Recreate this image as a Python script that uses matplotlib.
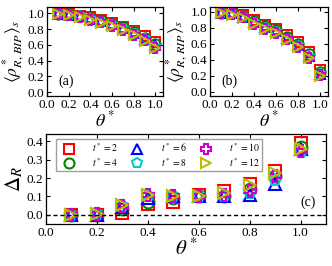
import matplotlib
matplotlib.use("Agg")
import matplotlib.pyplot as plt
from matplotlib.ticker import MultipleLocator, FormatStrFormatter

plt.rcParams['font.family'] = ['Liberation Serif', 'DejaVu Serif']
plt.rcParams['mathtext.fontset'] = 'stix'

theta = [0.1, 0.2, 0.3, 0.4, 0.5, 0.6, 0.7, 0.8, 0.9, 1.0]
times = [2, 4, 6, 8, 10, 12]
labels = [r'$t^*=2$', r'$t^*=4$', r'$t^*=6$', r'$t^*=8$', r'$t^*=10$', r'$t^*=12$']

rho_bip = {
    2:  [1.00, 0.99, 0.97, 0.95, 0.92, 0.88, 0.83, 0.78, 0.71, 0.63],
    4:  [0.99, 0.99, 0.97, 0.94, 0.91, 0.87, 0.82, 0.76, 0.69, 0.61],
    6:  [0.99, 0.98, 0.96, 0.93, 0.90, 0.86, 0.81, 0.75, 0.68, 0.60],
    8:  [0.99, 0.98, 0.96, 0.93, 0.89, 0.85, 0.80, 0.74, 0.67, 0.57],
    10: [0.99, 0.98, 0.95, 0.92, 0.89, 0.84, 0.79, 0.73, 0.66, 0.56],
    12: [0.99, 0.98, 0.95, 0.92, 0.88, 0.84, 0.79, 0.73, 0.65, 0.56],
}
rho_rip = {
    2:  [1.00, 1.00, 0.96, 0.90, 0.84, 0.79, 0.71, 0.62, 0.50, 0.27],
    4:  [0.99, 0.99, 0.95, 0.89, 0.82, 0.77, 0.69, 0.60, 0.48, 0.25],
    6:  [0.99, 0.98, 0.94, 0.87, 0.81, 0.76, 0.67, 0.58, 0.45, 0.23],
    8:  [0.99, 0.97, 0.93, 0.86, 0.80, 0.75, 0.66, 0.57, 0.44, 0.22],
    10: [0.99, 0.97, 0.93, 0.85, 0.79, 0.74, 0.66, 0.56, 0.43, 0.21],
    12: [0.98, 0.96, 0.92, 0.85, 0.79, 0.73, 0.65, 0.56, 0.42, 0.20],
}
delta_r = {
    2:  [0.000, 0.000, 0.010, 0.060, 0.070, 0.110, 0.130, 0.170, 0.240, 0.390],
    4:  [0.000, 0.000, 0.030, 0.070, 0.090, 0.100, 0.100, 0.140, 0.210, 0.370],
    6:  [0.000, 0.000, 0.040, 0.090, 0.100, 0.100, 0.100, 0.110, 0.170, 0.360],
    8:  [0.000, 0.005, 0.050, 0.100, 0.100, 0.100, 0.100, 0.120, 0.190, 0.340],
    10: [0.000, 0.005, 0.050, 0.110, 0.100, 0.100, 0.110, 0.130, 0.210, 0.350],
    12: [0.000, 0.005, 0.055, 0.110, 0.105, 0.105, 0.120, 0.160, 0.230, 0.360],
}

markers = ['s', 'o', '^', 'p', 'P', '>']
colors = ['#ff0000', '#008800', '#0000ff', '#00cccc', '#cc00cc', '#bbbb00']

fig = plt.figure(figsize=(3.32, 2.66), dpi=100)
W, H = 332, 266
def ax_at(l, t, r, b):
    return fig.add_axes([l / W, 1 - b / H, (r - l) / W, (b - t) / H])

axa = ax_at(47, 7, 163, 96)
axb = ax_at(210, 7, 328, 96)
axc = ax_at(46, 134, 326, 224)

def style(ax, fs=9.5):
    ax.tick_params(direction='in', top=True, right=True, labelsize=fs, length=3, width=0.8, pad=2)
    for s in ax.spines.values():
        s.set_linewidth(0.9)

for ax, data, lab, name in [(axa, rho_bip, r'$\langle\rho^*_{R,\,BIP}\rangle_s$', '(a)'),
                            (axb, rho_rip, r'$\langle\rho^*_{R,\,RIP}\rangle_s$', '(b)')]:
    for t, m, c in zip(times, markers, colors):
        ax.plot(theta, data[t], linestyle='none', marker=m, markersize=7.5,
                markerfacecolor='none', markeredgecolor=c, markeredgewidth=1.4)
    ax.set_xlim(0, 1.07)
    ax.set_ylim(-0.05, 1.08 if ax is axa else 1.06)
    ax.xaxis.set_major_locator(MultipleLocator(0.2))
    ax.yaxis.set_major_locator(MultipleLocator(0.2))
    ax.xaxis.set_major_formatter(FormatStrFormatter('%.1f'))
    ax.yaxis.set_major_formatter(FormatStrFormatter('%.1f'))
    style(ax)
    ax.set_xlabel(r'$\theta^*$', fontsize=13, labelpad=0)
    ax.set_ylabel(lab, fontsize=12.5, labelpad=0)
    ax.text(0.1, 0.12, name, transform=ax.transAxes, fontsize=10)

for t, m, c, l in zip(times, markers, colors, labels):
    axc.plot(theta, delta_r[t], linestyle='none', marker=m, markersize=8.5,
             markerfacecolor='none', markeredgecolor=c, markeredgewidth=1.5, label=l)
axc.axhline(0, color='black', linestyle='--', linewidth=1.0, dashes=(3, 2))
axc.set_xlim(0, 1.1)
axc.set_ylim(-0.05, 0.44)
axc.xaxis.set_major_locator(MultipleLocator(0.2))
axc.yaxis.set_major_locator(MultipleLocator(0.1))
axc.xaxis.set_major_formatter(FormatStrFormatter('%.1f'))
axc.yaxis.set_major_formatter(FormatStrFormatter('%.1f'))
style(axc)
axc.set_xlabel(r'$\theta^*$', fontsize=15, labelpad=0)
axc.set_ylabel(r'$\Delta_R$', fontsize=15, labelpad=1)
axc.text(0.965, 0.2, '(c)', transform=axc.transAxes, fontsize=10, ha='right')
leg = axc.legend(ncol=3, loc='upper left', bbox_to_anchor=(0.02, 1.0), fontsize=7,
                 frameon=True, fancybox=False, edgecolor='#888888', handletextpad=1.4,
                 columnspacing=1.0, borderpad=0.25, labelspacing=0.15, markerscale=0.85)
leg.get_frame().set_linewidth(1.0)

fig.savefig('out.png', dpi=100)
